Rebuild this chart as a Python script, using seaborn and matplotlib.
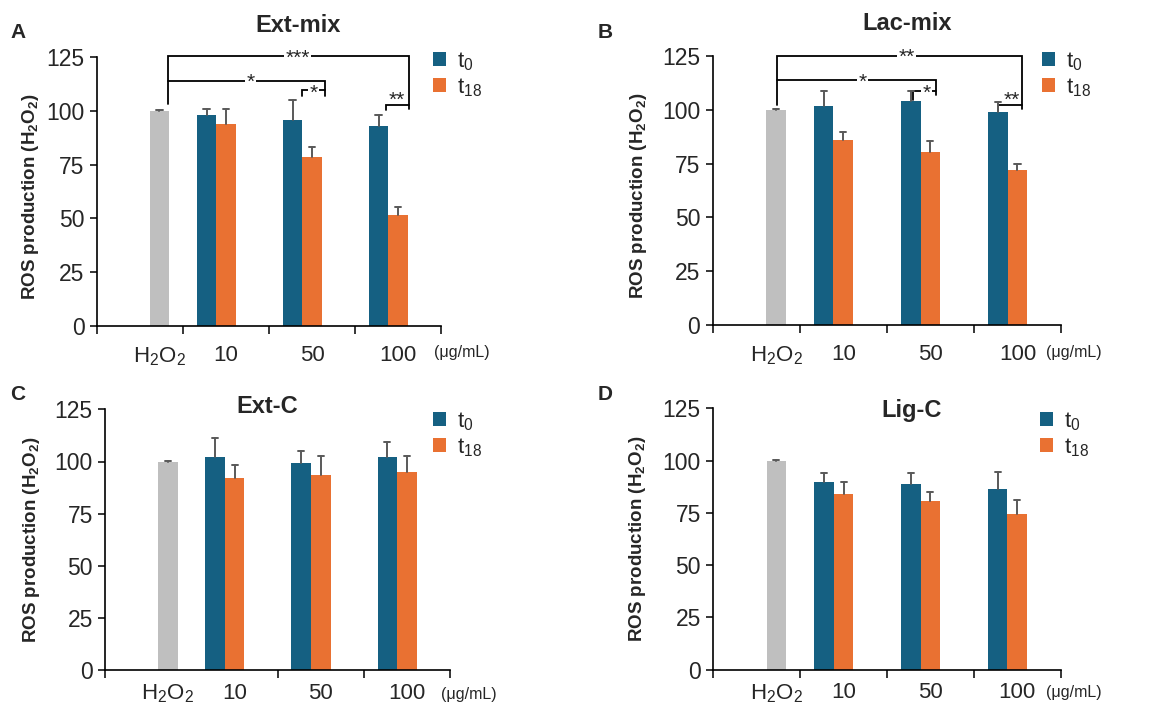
import numpy as np
import pandas as pd
import matplotlib
matplotlib.use("Agg")
import matplotlib.pyplot as plt
import seaborn as sns
from matplotlib.patches import Patch

# ---------------- data ----------------
categories = ["H2O2", "10", "50", "100"]
series = ["t0", "t18", "H2O2"]
tick_labels = [r"H$_2$O$_2$", "10", "50", "100"]
legend_labels = [r"t$_0$", r"t$_{18}$"]
titles = ["Ext-mix", "Lac-mix", "Ext-C", "Lig-C"]
panel_letters = ["A", "B", "C", "D"]
conc_cats = ["10", "50", "100"]

h2o2_value = 100.0
h2o2_err = 0.4

ext_mix_t0 = [97.9, 95.8, 93.1]
ext_mix_t0_err = [3.0, 9.4, 4.8]
ext_mix_t18 = [93.8, 78.6, 51.8]
ext_mix_t18_err = [7.0, 4.8, 3.4]

lac_mix_t0 = [101.8, 104.2, 99.0]
lac_mix_t0_err = [7.1, 4.7, 4.6]
lac_mix_t18 = [86.1, 80.2, 71.9]
lac_mix_t18_err = [3.6, 5.3, 2.9]

ext_c_t0 = [102.3, 99.5, 102.0]
ext_c_t0_err = [9.1, 5.6, 7.5]
ext_c_t18 = [92.0, 93.6, 95.0]
ext_c_t18_err = [6.4, 8.9, 7.8]

lig_c_t0 = [89.8, 88.6, 86.6]
lig_c_t0_err = [4.1, 5.3, 8.1]
lig_c_t18 = [84.2, 80.5, 74.5]
lig_c_t18_err = [5.6, 4.6, 6.5]

panels_t0 = [ext_mix_t0, lac_mix_t0, ext_c_t0, lig_c_t0]
panels_t0_err = [ext_mix_t0_err, lac_mix_t0_err, ext_c_t0_err, lig_c_t0_err]
panels_t18 = [ext_mix_t18, lac_mix_t18, ext_c_t18, lig_c_t18]
panels_t18_err = [ext_mix_t18_err, lac_mix_t18_err, ext_c_t18_err, lig_c_t18_err]

# significance labels
sig_A = ["***", "*", "*", "**"]
sig_B = ["**", "*", "*", "**"]

# ---------------- style ----------------
sns.set_style("white")
plt.rcParams["font.family"] = ["Liberation Sans", "DejaVu Sans"]
plt.rcParams["mathtext.fontset"] = "custom"
plt.rcParams["mathtext.rm"] = "Liberation Sans"
plt.rcParams["mathtext.it"] = "Liberation Sans"
plt.rcParams["mathtext.bf"] = "Liberation Sans:bold"
plt.rcParams["mathtext.default"] = "regular"

C_T0 = "#156082"
C_T18 = "#E97132"
C_GRAY = "#BFBFBF"
C_ERR = "#595959"
palette = {"t0": C_T0, "t18": C_T18, "H2O2": C_GRAY}

W, H = 1169, 709
fig = plt.figure(figsize=(W / 100, H / 100), dpi=100)

def fx(px):
    return px / W

def fy(py):
    return 1 - py / H

# axes rectangles in pixel: left, top, right, bottom
rects = [(97, 57, 441, 326), (712.7, 56, 1061, 325),
         (105.3, 409.3, 450, 670.3), (713.3, 408.3, 1060.7, 669.7)]
title_pos = [(298, 26), (906.7, 24), (266.7, 406.7), (911.7, 410)]
letter_pos = [(18, 33), (605, 33), (18, 395), (605, 395)]
legend_pos = [(433, 50), (1042, 50), (433, 410), (1040, 410)]
unit_pos = [(462, 352), (1074, 352), (469, 695), (1074, 693)]
ylabel_pos = [(-0.163, 0.48), (-0.183, 0.48), (-0.184, 0.5), (-0.187, 0.5)]
xlabel_pad = [14, 14, 9, 9]

BAR_W = 0.68
CAP_HALF = 0.035
n_s = len(series)
offsets = [-BAR_W / 2 + BAR_W / n_s / 2 + i * BAR_W / n_s for i in range(n_s)]

def bracket(ax, xs, ys, **kw):
    ax.plot(xs, ys, color="black", lw=1.3, clip_on=False, solid_joinstyle="miter", **kw)

def star(ax, x, y, s):
    ax.text(x, y - 1.0, s, ha="center", va="center", fontsize=15,
            bbox=dict(facecolor="white", edgecolor="none", pad=1.0), zorder=5)

for p in range(4):
    l, t, r, b = rects[p]
    ax = fig.add_axes([fx(l), fy(b), fx(r - l), (b - t) / H])

    rows = [{"category": "H2O2", "series": "H2O2", "value": h2o2_value, "err": h2o2_err}]
    for i, c in enumerate(conc_cats):
        rows.append({"category": c, "series": "t0", "value": panels_t0[p][i], "err": panels_t0_err[p][i]})
        rows.append({"category": c, "series": "t18", "value": panels_t18[p][i], "err": panels_t18_err[p][i]})
    df = pd.DataFrame(rows)

    sns.barplot(data=df, x="category", y="value", hue="series", order=categories,
                hue_order=series, palette=palette, width=BAR_W, saturation=1,
                errorbar=None, legend=False, gap=0, linewidth=0, ax=ax)

    # error bars (upper only, cap at top)
    for _, row in df.iterrows():
        xi = categories.index(row["category"]) + offsets[series.index(row["series"])]
        top = row["value"] + row["err"]
        ax.plot([xi, xi], [row["value"], top], color=C_ERR, lw=1.4, zorder=4)
        ax.plot([xi - CAP_HALF, xi + CAP_HALF], [top, top], color=C_ERR, lw=1.4, zorder=4)

    ax.set_xlim(-0.5, 3.5)
    ax.set_ylim(0, 125)
    ax.set_yticks(np.arange(0, 126, 25))
    ax.tick_params(axis="y", labelsize=16.5, length=5, width=1.1, direction="out",
                   left=True, pad=4, color="black")
    ax.set_xticks([offsets[2], 1, 2, 3])
    ax.set_xticklabels(tick_labels)
    ax.tick_params(axis="x", which="major", length=0, labelsize=16, pad=xlabel_pad[p])
    minor = [-0.5, 0.5, 1.5, 2.5, 3.5] if p != 2 else [-0.5, 1.5, 2.5, 3.5]
    ax.set_xticks(minor, minor=True)
    ax.tick_params(axis="x", which="minor", length=6, width=1.1, direction="out",
                   bottom=True, color="black")
    ax.set_xlabel("")
    ax.set_ylabel(r"ROS production (H$_2$O$_2$)", fontsize=13.5, fontweight="bold")
    ax.yaxis.set_label_coords(*ylabel_pos[p])
    for s in ["top", "right"]:
        ax.spines[s].set_visible(False)
    for s in ["left", "bottom"]:
        ax.spines[s].set_color("black")
        ax.spines[s].set_linewidth(1.2)

    fig.text(fx(title_pos[p][0]), fy(title_pos[p][1]), titles[p], ha="center",
             va="center", fontsize=17, fontweight="bold")
    fig.text(fx(letter_pos[p][0]), fy(letter_pos[p][1]), panel_letters[p], ha="center",
             va="center", fontsize=15, fontweight="bold")
    fig.text(fx(unit_pos[p][0]), fy(unit_pos[p][1]), "(\u03bcg/mL)", ha="center",
             va="center", fontsize=11.5)

    handles = [Patch(facecolor=C_T0, edgecolor="none"), Patch(facecolor=C_T18, edgecolor="none")]
    ax.legend(handles, legend_labels, loc="upper left",
              bbox_to_anchor=(fx(legend_pos[p][0]), fy(legend_pos[p][1])),
              bbox_transform=fig.transFigure, frameon=False, fontsize=16,
              handlelength=0.6, handleheight=0.6, handletextpad=0.5,
              labelspacing=0.15, borderpad=0, borderaxespad=0)

    if p == 0:
        bracket(ax, [0.33, 0.33, 3.13, 3.13], [103.3, 125.3, 125.3, 101.0])
        star(ax, 1.83, 125.3, sig_A[0])
        bracket(ax, [0.33, 2.15, 2.15], [114.0, 114.0, 106.7])
        star(ax, 1.29, 114.0, sig_A[1])
        bracket(ax, [1.88, 1.88, 2.15], [106.7, 109.5, 109.5])
        star(ax, 2.02, 109.3, sig_A[2])
        bracket(ax, [2.86, 2.86, 3.13], [100.2, 102.5, 102.5])
        ax.text(2.99, 104.8, sig_A[3], ha="center", va="center", fontsize=15)
    elif p == 1:
        bracket(ax, [0.24, 0.24, 3.05, 3.05], [102.2, 125.2, 125.2, 100.2])
        star(ax, 1.73, 125.2, sig_B[0])
        bracket(ax, [0.24, 2.07, 2.07], [113.8, 113.8, 106.9])
        star(ax, 1.22, 113.8, sig_B[1])
        bracket(ax, [1.80, 1.80, 2.07], [104.6, 108.9, 108.9])
        star(ax, 1.96, 108.7, sig_B[2])
        bracket(ax, [2.78, 2.78, 3.05], [100.0, 102.2, 102.2])
        ax.text(2.93, 104.6, sig_B[3], ha="center", va="center", fontsize=15)

fig.savefig("out.png", dpi=100)
